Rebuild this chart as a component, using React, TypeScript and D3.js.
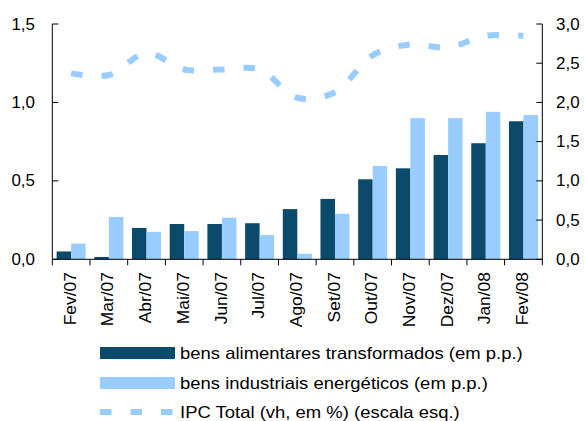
import React from "react";
import * as d3 from "d3";

const categories = ["Fev/07","Mar/07","Abr/07","Mai/07","Jun/07","Jul/07","Ago/07","Set/07","Out/07","Nov/07","Dez/07","Jan/08","Fev/08"];
const alimentares = [0.05,0.015,0.20,0.225,0.225,0.23,0.32,0.385,0.51,0.58,0.665,0.74,0.88];
const energeticos = [0.10,0.27,0.175,0.18,0.265,0.155,0.035,0.29,0.595,0.90,0.90,0.94,0.92];
const ipc = [2.37,2.35,2.63,2.42,2.42,2.42,2.06,2.13,2.6,2.74,2.7,2.85,2.85];
const leftTicks = [0, 0.5, 1.0, 1.5];
const rightTicks = [0, 0.5, 1.0, 1.5, 2.0, 2.5, 3.0];
const legendLabels = [
  "bens alimentares transformados (em p.p.)",
  "bens industriais energéticos (em p.p.)",
  "IPC Total (vh, em %) (escala esq.)",
];

const DARK = "#0B4A6A";
const LIGHT = "#99CCFF";
const FONT = "'Liberation Sans', Arial, sans-serif";

export default function App() {
  const W = 585, H = 421;
  const left = 52.3, right = 542.3, top = 24, bottom = 259.3;
  const x = d3.scaleBand<string>().domain(categories).range([left, right]).paddingInner(0.23).paddingOuter(0.115);
  const step = (right - left) / categories.length;
  const xc = (c: string) => left + step * (categories.indexOf(c) + 0.5);
  const x1 = d3.scaleBand<string>().domain(["a", "e"]).range([0, x.bandwidth()]);
  const yL = d3.scaleLinear().domain([0, 1.5]).range([bottom, top]);
  const yR = d3.scaleLinear().domain([0, 3.0]).range([bottom, top]);
  const line = d3.line<number>().x((_, i) => xc(categories[i])).y((d) => yR(d)).curve(d3.curveCatmullRom.alpha(0.5));
  const fmt = (v: number) => v.toFixed(1).replace(".", ",");
  const legendY = [353, 383, 412];

  return (
    <div style={{ position: "fixed", left: 0, top: 0 }}>
      <svg width={W} height={H} style={{ display: "block", fontFamily: FONT }}>
        <rect width={W} height={H} fill="#fff" />
        {categories.map((c, i) => (
          <g key={c}>
            <rect x={(x(c) as number) + (x1("a") as number)} y={yL(alimentares[i])} width={x1.bandwidth()} height={bottom - yL(alimentares[i])} fill={DARK} />
            <rect x={(x(c) as number) + (x1("e") as number)} y={yL(energeticos[i])} width={x1.bandwidth()} height={bottom - yL(energeticos[i])} fill={LIGHT} />
          </g>
        ))}
        <path d={line(ipc) || ""} fill="none" stroke={LIGHT} strokeWidth={6} strokeDasharray="11.5,19" />
        {/* left axis */}
        <line x1={left} x2={left} y1={top} y2={bottom} stroke="#000" strokeWidth={1} />
        {leftTicks.map((t) => (
          <g key={"l" + t}>
            <line x1={left} x2={left + 6} y1={yL(t)} y2={yL(t)} stroke="#000" />
            <text transform={`translate(35,${yL(t)}) scale(1.06,1)`} dy="0.35em" textAnchor="end" fontSize={16} fill="#000">{fmt(t)}</text>
          </g>
        ))}
        {/* right axis */}
        <line x1={right} x2={right} y1={top} y2={bottom} stroke="#000" strokeWidth={1} />
        {rightTicks.map((t) => (
          <g key={"r" + t}>
            <line x1={right - 6} x2={right} y1={yR(t)} y2={yR(t)} stroke="#000" />
            <text transform={`translate(556,${yR(t)}) scale(1.06,1)`} dy="0.35em" textAnchor="start" fontSize={16} fill="#000">{fmt(t)}</text>
          </g>
        ))}
        {/* x axis */}
        <line x1={left} x2={right} y1={bottom} y2={bottom} stroke="#000" />
        {d3.range(categories.length + 1).map((i) => (
          <line key={"xt" + i} x1={left + step * i} x2={left + step * i} y1={bottom} y2={bottom + 6} stroke="#000" />
        ))}
        {categories.map((c) => (
          <text key={"xl" + c} transform={`translate(${xc(c) - 1},${272}) rotate(-90) scale(1.09,1)`} dy="0.35em" textAnchor="end" fontSize={16} fill="#000">{c}</text>
        ))}
        {/* legend */}
        <rect x={100} y={347} width={75} height={12} fill={DARK} />
        <rect x={100} y={377} width={75} height={12} fill={LIGHT} />
        <line x1={100} x2={175} y1={412} y2={412} stroke={LIGHT} strokeWidth={6} strokeDasharray="11.5,19" />
        {legendLabels.map((l, i) => (
          <text key={l} transform={`translate(180,${legendY[i]}) scale(1.12,1)`} dy="0.35em" fontSize={16.5} fill="#000">{l}</text>
        ))}
      </svg>
    </div>
  );
}
